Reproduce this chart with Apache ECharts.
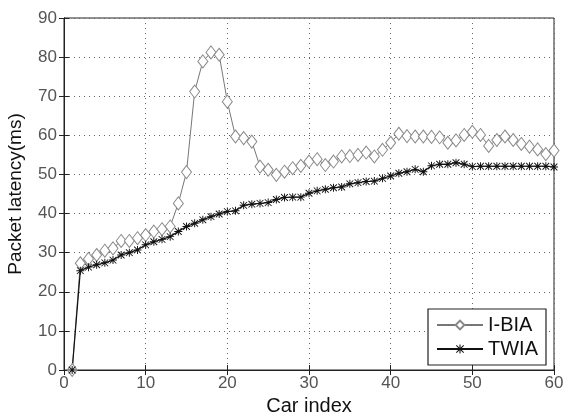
<!DOCTYPE html>
<html>
<head>
<meta charset="utf-8">
<script src="https://cdn.jsdelivr.net/npm/echarts@6/dist/echarts.min.js"></script>
<style>
  html, body { margin: 0; padding: 0; background: #fff; }
  #chart { width: 563px; height: 414px; }
</style>
</head>
<body>
<div id="chart"></div>
<script>
// car index 1..60
const carIndex = [];
for (let i = 1; i <= 60; i++) carIndex.push(i);

const ibia = [
  0, 27.3, 28.4, 29.4, 30.5, 31.1, 33, 33, 33.7, 34.5,
  35.4, 36, 36.7, 42.6, 50.6, 71.2, 78.9, 81.2, 80.6, 68.6,
  59.7, 59.3, 58.4, 52, 51.2, 49.9, 50.7, 51.6, 52.2, 53.3,
  53.9, 52.4, 53.3, 54.6, 54.7, 55, 55.6, 54.6, 56.3, 58.1,
  60.4, 59.8, 59.7, 59.7, 59.6, 59.5, 58.1, 58.7, 60.1, 60.9,
  60.1, 57.3, 58.8, 59.7, 58.8, 57.8, 57.1, 56.4, 55.2, 56.1
];

const twia = [
  0, 25.4, 26.3, 26.9, 27.4, 28.1, 29.4, 30, 30.7, 32,
  32.8, 33.4, 34.1, 35.4, 36.7, 37.5, 38.4, 39.2, 39.9, 40.5,
  40.7, 42.1, 42.4, 42.6, 42.8, 43.6, 44.1, 44.2, 44.2, 45.2,
  45.8, 46.2, 46.6, 46.8, 47.6, 47.9, 48.2, 48.3, 49, 49.6,
  50.3, 50.7, 51.3, 50.7, 52.2, 52.6, 52.6, 53, 52.6, 52,
  52.1, 52.1, 52.1, 52.1, 52.1, 52.1, 52.1, 52.1, 52.1, 51.9
];

const seriesNames = ['I-BIA', 'TWIA'];

function pairs(ys) {
  return ys.map(function (v, i) { return [carIndex[i], v]; });
}

// asterisk marker
const starPath = 'path://M4.4,0h1.2v10h-1.2z M0,4.4h10v1.2h-10z M1.2,0.4L9.6,8.8L8.8,9.6L0.4,1.2z M8.8,0.4L9.6,1.2L1.2,9.6L0.4,8.8z';

let chart = echarts.init(document.getElementById('chart'));
chart.setOption({
  animation: false,
  backgroundColor: '#fff',
  textStyle: {fontFamily: 'Liberation Sans, Arial, sans-serif'},
  grid: {
    left: 64,
    right: 9,
    top: 18,
    bottom: 44,
    outerBoundsMode: 'none',
    containLabel: false,
    show: true,
    borderColor: '#222',
    borderWidth: 1
  },
  legend: {
    orient: 'vertical',
    right: 17,
    top: 309,
    data: seriesNames,
    backgroundColor: '#fff',
    borderColor: '#222',
    borderWidth: 1.2,
    borderRadius: 0,
    padding: [6, 8, 6, 8],
    itemGap: 4,
    itemWidth: 46,
    itemHeight: 11,
    textStyle: {fontSize: 20, color: '#111', padding: [0, 0, 0, 0]}
  },
  xAxis: [
    {
      type: 'value',
      min: 0,
      max: 60,
      interval: 10,
      name: 'Car index',
      nameLocation: 'middle',
      nameGap: 25,
      nameTextStyle: {fontSize: 20, color: '#111'},
      axisLine: {show: true, lineStyle: {color: '#222'}},
      axisTick: {inside: true, length: 5, lineStyle: {color: '#222'}},
      axisLabel: {fontSize: 17, color: '#555', margin: 5},
      splitLine: {show: true, lineStyle: {type: [1, 4], color: '#666'}}
    },
    {
      type: 'value',
      position: 'top',
      min: 0,
      max: 60,
      interval: 10,
      axisLine: {show: true, lineStyle: {color: '#222'}},
      axisTick: {inside: true, length: 5, lineStyle: {color: '#222'}},
      axisLabel: {show: false},
      splitLine: {show: false}
    }
  ],
  yAxis: [
    {
      type: 'value',
      min: 0,
      max: 90,
      interval: 10,
      name: 'Packet latency(ms)',
      nameLocation: 'middle',
      nameGap: 39,
      nameTextStyle: {fontSize: 19, color: '#111'},
      axisLine: {show: true, lineStyle: {color: '#222'}},
      axisTick: {inside: true, length: 5, lineStyle: {color: '#222'}},
      axisLabel: {fontSize: 17, color: '#555', margin: 7},
      splitLine: {show: true, lineStyle: {type: [1, 4], color: '#666'}}
    },
    {
      type: 'value',
      position: 'right',
      min: 0,
      max: 90,
      interval: 10,
      axisLine: {show: true, lineStyle: {color: '#222'}},
      axisTick: {inside: true, length: 5, lineStyle: {color: '#222'}},
      axisLabel: {show: false},
      splitLine: {show: false}
    }
  ],
  series: [
    {
      name: 'I-BIA',
      type: 'line',
      data: pairs(ibia),
      symbol: 'diamond',
      symbolSize: [10, 13],
      showAllSymbol: true,
      lineStyle: {color: '#777', width: 1},
      itemStyle: {color: '#fff', borderColor: '#888', borderWidth: 1}
    },
    {
      name: 'TWIA',
      type: 'line',
      data: pairs(twia),
      symbol: starPath,
      symbolSize: 8,
      showAllSymbol: true,
      lineStyle: {color: '#111', width: 1.2},
      itemStyle: {color: '#111', borderWidth: 0}
    }
  ]
});
</script>
</body>
</html>
